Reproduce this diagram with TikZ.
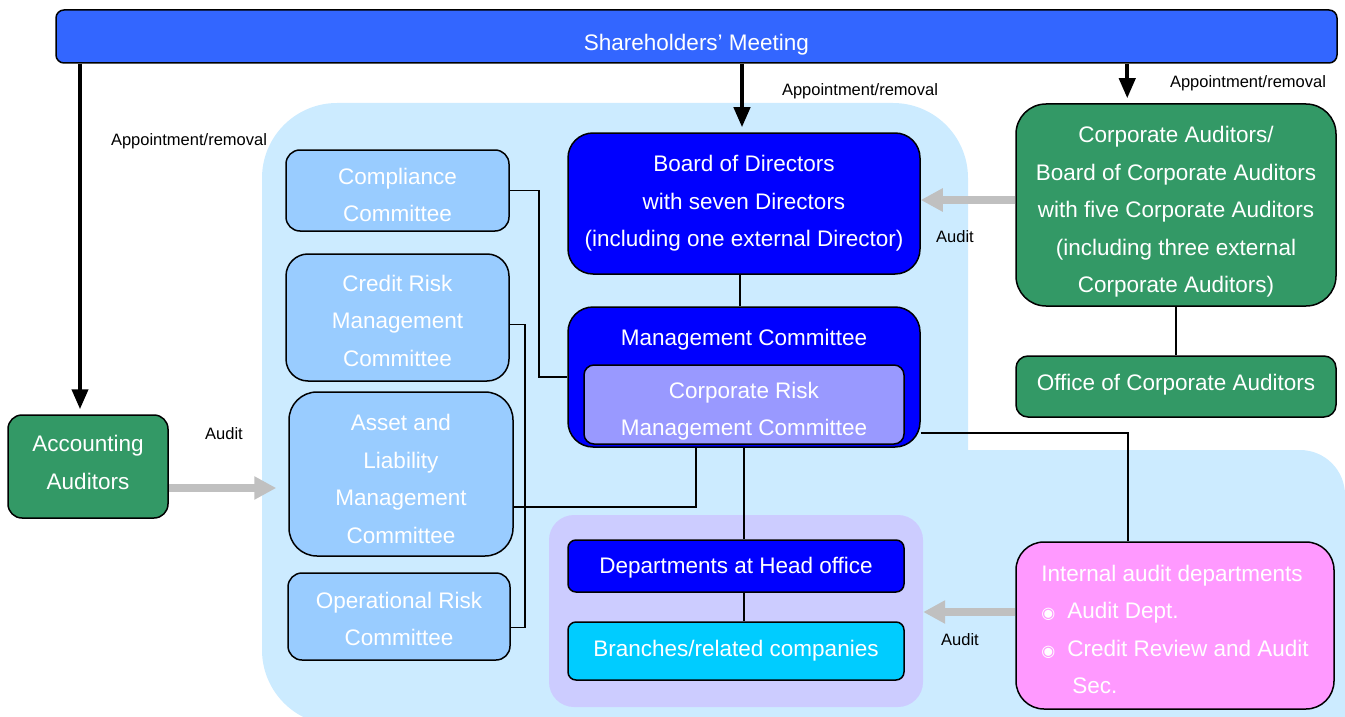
\documentclass[tikz,border=0pt]{standalone}
\usepackage{fontspec}
\setmainfont{Liberation Sans}
\newfontfamily\dejavu{DejaVu Sans}
\usetikzlibrary{arrows.meta,calc}
\definecolor{shblue}{HTML}{3366FF}
\definecolor{regblue}{HTML}{CCEBFF}
\definecolor{lav}{HTML}{CCCCFF}
\definecolor{combox}{HTML}{99CCFF}
\definecolor{dblue}{HTML}{0000FF}
\definecolor{crisk}{HTML}{9999FF}
\definecolor{grn}{HTML}{339966}
\definecolor{cyanbox}{HTML}{00CCFF}
\definecolor{pinkbox}{HTML}{FF99FF}
\definecolor{arrgray}{HTML}{C0C0C0}
\newcommand{\bul}{{\dejavu\fontsize{16}{16}\selectfont ◉}}
\newcommand{\dn}[1]{\rule{0pt}{#1}}
\newcommand{\up}[1]{\rule[-#1]{0pt}{#1}}
\begin{document}
\begin{tikzpicture}[x=1pt,y=-1pt,
  box/.style={draw=black, line width=1.5pt, text=white, align=center,
    font=\fontsize{22.5}{37.5}\selectfont, inner sep=0pt},
  cbox/.style={box, fill=combox, rounded corners=14pt},
  gbox/.style={box, fill=grn},
  lbl/.style={font=\fontsize{16.5}{18}\selectfont, text=black, inner sep=0pt},
  conn/.style={draw=black, line width=1.5pt},
  thickarrow/.style={draw=black, line width=4pt, -{Triangle[length=20pt,width=16pt]}},
  grayarrow/.style={draw=arrgray, line width=8pt, -{Triangle[length=22pt,width=22pt]}}
]
\useasboundingbox (0,0) rectangle (1345,717);
% background regions
\fill[regblue, rounded corners=75pt] (262,103) rectangle (968,725);
\fill[regblue, rounded corners=45pt] (900,450) rectangle (1345,790);
\node[fill=lav, rounded corners=25pt, minimum width=374pt, minimum height=192pt, inner sep=0pt] (lavr) at (736,611) {};

% nodes
\node[box, fill=shblue, rounded corners=8pt, minimum width=1281pt, minimum height=53pt] (sh) at (696.5,36.5) {\dn{32pt}Shareholders’ Meeting};
\node[box, fill=dblue, rounded corners=25pt, minimum width=352pt, minimum height=141pt] (board) at (744,203.5) {Board of Directors\\with seven Directors\\(including one external Director)};
\node[box, fill=dblue, rounded corners=25pt, minimum width=352pt, minimum height=140pt] (mgmt) at (744,377) {};
\node[text=white, font=\fontsize{22.5}{37.5}\selectfont, inner sep=0pt] (mgmtT) at (744,339.5) {Management Committee};
\node[box, fill=crisk, rounded corners=10pt, minimum width=320pt, minimum height=79pt] (crm) at (744,404.5) {\dn{30pt}Corporate Risk\\Management Committee};
\node[cbox, minimum width=223pt, minimum height=81pt] (comp) at (397.5,190.5) {\dn{25pt}Compliance\\Committee};
\node[cbox, rounded corners=22pt, minimum width=223pt, minimum height=127pt] (credit) at (397.5,317.5) {\dn{22.5pt}Credit Risk\\Management\\Committee};
\node[cbox, rounded corners=28pt, minimum width=224pt, minimum height=164pt] (asset) at (401,474) {\dn{26.5pt}Asset and\\Liability\\Management\\Committee};
\node[cbox, minimum width=222pt, minimum height=87pt] (oper) at (399,616.5) {\dn{21.5pt}Operational Risk\\Committee};
\node[gbox, rounded corners=30pt, minimum width=320pt, minimum height=202pt] (ca) at (1176,205) {\dn{30.5pt}Corporate Auditors/\\Board of Corporate Auditors\\with five Corporate Auditors\\(including three external\\Corporate Auditors)};
\node[gbox, rounded corners=12pt, minimum width=320pt, minimum height=61pt] (office) at (1176,386.5) {Office of Corporate Auditors\up{8.5pt}};
\node[gbox, rounded corners=14pt, minimum width=160pt, minimum height=103pt] (acc) at (88,466.5) {Accounting\\Auditors\up{8pt}};
\node[box, fill=dblue, rounded corners=8pt, minimum width=336pt, minimum height=52pt] (dept) at (736,566) {\dn{20pt}Departments at Head office};
\node[box, fill=cyanbox, rounded corners=8pt, minimum width=336pt, minimum height=58pt] (branch) at (736,651) {Branches/related companies};
\node[box, fill=pinkbox, rounded corners=28pt, minimum width=318pt, minimum height=167pt, align=left] (internal) at (1175,625.5) {\dn{24.5pt}Internal audit departments\\\bul\hspace{12pt}Audit Dept.\\\bul\hspace{12pt}Credit Review and Audit\\\hspace{31pt}Sec.};

% labels
\node[lbl] (l1) at (860,91) {Appointment/removal};
\node[lbl] (l2) at (1248,83) {Appointment/removal};
\node[lbl] (l3) at (189,141) {Appointment/removal};
\node[lbl] (a1) at (955,237) {Audit};
\node[lbl] (a2) at (224,434) {Audit};
\node[lbl] (a3) at (960,640) {Audit};

% black arrows
\draw[thickarrow, shorten >=5pt] (sh.south -| 742,0) -- (board.north -| 742,0);
\coordinate (caTop) at ($(ca.north west)+(112,0)$);
\draw[thickarrow, shorten >=5pt] (sh.south -| caTop) -- (caTop);
\coordinate (accTop) at ($(acc.north)+(-8,0)$);
\draw[thickarrow, shorten >=5pt] (sh.south -| accTop) -- (accTop);

% connectors
\draw[conn] (board.south -| 740,0) -- (mgmt.north -| 740,0);
\draw[conn] (comp.east) -- ++(29,0) |- (mgmt.west);
\draw[conn] ($(credit.east)+(0,7)$) -- ++(15,0) |- ($(oper.east)+(0,11)$);
\draw[conn] ($(asset.east)+(0,33)$) -| ($(mgmt.south)+(-48,0)$);
\draw[conn] (mgmt.south) -- (mgmt.south |- dept.north);
\draw[conn] (dept.south -| mgmt.south) -- (branch.north -| mgmt.south);
\draw[conn] ($(mgmt.east)+(0,56)$) -| ($(internal.north)+(-47,0)$);
\draw[conn] (ca) -- (office);

% gray audit arrows
\draw[grayarrow] ($(ca.west)+(0,-5)$) -- (board.east |- 0,200);
\draw[grayarrow, shorten >=12pt] ($(acc.east)+(0,21.5)$) -- (asset.west |- 0,488);
\draw[grayarrow] ($(internal.west)+(0,-13.5)$) -- (lavr.east |- 0,612);
\end{tikzpicture}
\end{document}
